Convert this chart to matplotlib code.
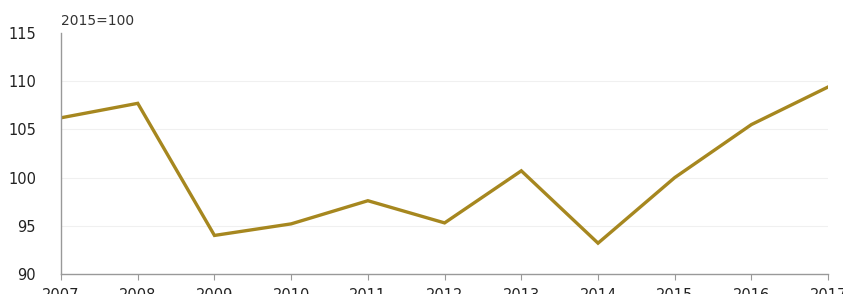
import matplotlib
matplotlib.use("Agg")
import matplotlib.pyplot as plt

years = [2007, 2008, 2009, 2010, 2011, 2012, 2013, 2014, 2015, 2016, 2017]
values = [106.2, 107.7, 94.0, 95.2, 97.6, 95.3, 100.7, 93.2, 100.0, 105.5, 109.4]
yticks = [90, 95, 100, 105, 110, 115]

fig = plt.figure(figsize=(8.43, 2.94), dpi=100)
ax = fig.add_axes([0.0724, 0.068, 0.910, 0.820])
ax.plot(years, values, color="#A6871F", lw=2.4, solid_joinstyle="miter")
ax.set_xlim(2007, 2017)
ax.set_ylim(90, 115)
ax.set_yticks(yticks)
ax.set_xticks(years)
for y in [95, 100, 105, 110]:
    ax.axhline(y, color="#f0f0f0", lw=0.8, zorder=0)
for s in ["top", "right"]:
    ax.spines[s].set_visible(False)
for s in ["left", "bottom"]:
    ax.spines[s].set_color("#999999")
    ax.spines[s].set_linewidth(1.0)
ax.tick_params(axis="y", length=0, pad=18, labelsize=10.5, colors="#222222")
ax.tick_params(axis="x", length=4, pad=6, labelsize=10.5, colors="#999999", labelcolor="#222222")
ax.text(0.0, 1.02, "2015=100", transform=ax.transAxes, fontsize=10, color="#333333", ha="left", va="bottom")
fig.savefig("out.png", dpi=100)
